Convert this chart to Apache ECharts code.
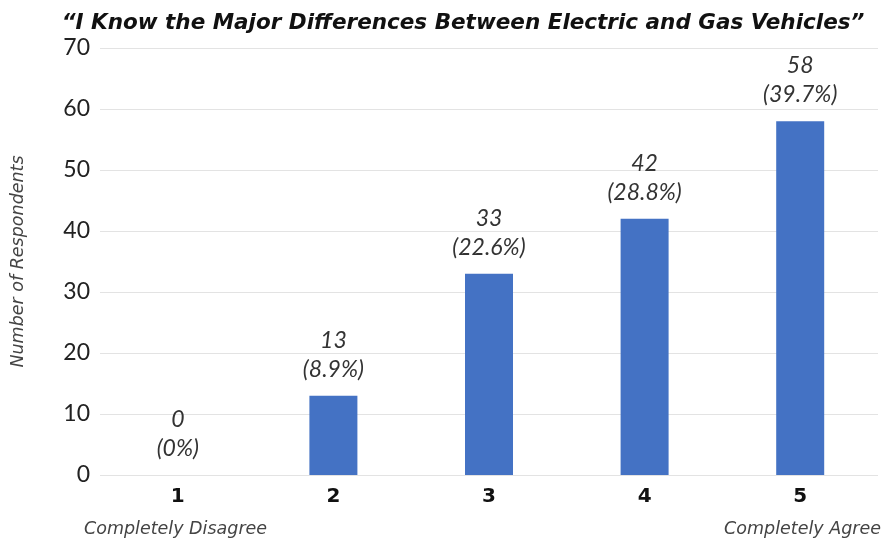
<!DOCTYPE html>
<html>
<head>
<meta charset="utf-8">
<script src="https://cdn.jsdelivr.net/npm/echarts@6/dist/echarts.min.js"></script>
<style>
  html, body { margin: 0; padding: 0; background: #fff; }
  #chart { width: 886px; height: 543px; }
</style>
</head>
<body>
<div id="chart"></div>
<script>
// Survey responses: agreement level 1 (disagree) to 5 (agree)
const categories = ['1', '2', '3', '4', '5'];
const respondents = [0, 13, 33, 42, 58];
const shares = ['0%', '8.9%', '22.6%', '28.8%', '39.7%'];
const yTicks = { min: 0, max: 70, interval: 10 };

const THIN = 'Lato, "DejaVu Sans", sans-serif';
const WIDE = '"DejaVu Sans", sans-serif';
const chart = echarts.init(document.getElementById('chart'), null, { renderer: 'canvas' });

chart.setOption({
  animation: false,
  title: {
    text: '\u201cI Know the Major Differences Between Electric and Gas Vehicles\u201d',
    left: 458,
    top: 7,
    textAlign: 'center',
    textStyle: { fontFamily: WIDE, fontSize: 21.5, fontWeight: 'bold', fontStyle: 'italic', color: '#111' }
  },
  grid: { left: 100, right: 8, top: 48, bottom: 68, containLabel: false, outerBoundsMode: 'none' },
  xAxis: {
    type: 'category',
    data: categories,
    axisLine: { show: false },
    axisTick: { show: false },
    axisLabel: { margin: 12, fontFamily: WIDE, fontSize: 20, fontWeight: 'bold', color: '#111' }
  },
  yAxis: {
    type: 'value',
    min: yTicks.min,
    max: yTicks.max,
    interval: yTicks.interval,
    name: 'Number of Respondents',
    nameLocation: 'middle',
    nameGap: 73,
    nameTextStyle: { fontFamily: WIDE, fontSize: 17.5, fontStyle: 'italic', color: '#444' },
    axisLine: { show: false },
    axisTick: { show: false },
    axisLabel: { margin: 10, fontFamily: THIN, fontSize: 23, color: '#222' },
    splitLine: { lineStyle: { color: '#e3e3e3', width: 1 } }
  },
  series: [{
    type: 'bar',
    data: respondents,
    barWidth: 48,
    itemStyle: { color: '#4472C4' },
    label: {
      show: true,
      position: 'top',
      distance: 12,
      fontFamily: THIN,
      fontSize: 23,
      fontStyle: 'italic',
      color: '#333',
      lineHeight: 29,
      formatter: p => p.value + '\n(' + shares[p.dataIndex] + ')'
    }
  }],
  graphic: [
    {
      type: 'text', left: 84, top: 520,
      style: { text: 'Completely Disagree', font: 'italic 17.5px ' + WIDE, fill: '#444' }
    },
    {
      type: 'text', right: 5, top: 520,
      style: { text: 'Completely Agree', font: 'italic 17.5px ' + WIDE, fill: '#444' }
    }
  ]
});
</script>
</body>
</html>
